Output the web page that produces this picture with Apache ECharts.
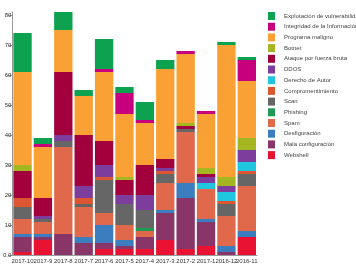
<!DOCTYPE html>
<html>
<head>
<meta charset="utf-8">
<script src="https://cdn.jsdelivr.net/npm/echarts@6/dist/echarts.min.js"></script>
<style>html,body{margin:0;padding:0;background:#fff}#c{width:356px;height:267px}</style>
</head>
<body>
<div id="c"></div>
<script>
const categories = ["2017-10","2017-9","2017-8","2017-7","2017-6","2017-5","2017-4","2017-3","2017-2","2017-1","2016-12","2016-11"];
// stacked bottom to top
const webshell   = [1,5,0,0,2,2,2,5,2,3,0,6];
const mala       = [5,1,7,4,2,1,4,9,17,8,1,0];
const desfig     = [1,1,0,2,6,2,0,1,5,1,2,2];
const spam       = [5,4,29,10,4,5,2,9,17,10,10,15];
const phishing   = [0,0,0,0,0,0,1,0,0,0,0,0];
const scan       = [4,1,2,1,11,7,6,3,1,0,4,4];
const comp       = [3,0,0,2,1,0,0,1,0,0,1,1];
const derecho    = [0,0,0,0,0,0,0,0,0,2,3,3];
const ddos       = [0,1,2,4,4,3,5,1,0,2,2,4];
const ataque     = [9,6,21,17,8,5,10,3,1,1,0,0];
const botnet     = [2,0,0,0,0,1,0,0,1,2,3,4];
const programa   = [31,17,14,13,23,21,14,30,23,18,44,19];
const integridad = [0,1,0,0,1,7,1,0,1,1,0,7];
const explot     = [13,2,6,2,10,2,6,3,0,0,1,1];

const seriesDefs = [
  ["Webshell", webshell, "#ea1232"],
  ["Mala configuración", mala, "#8a3568"],
  ["Desfiguración", desfig, "#3b7dbf"],
  ["Spam", spam, "#e0694c"],
  ["Phishing", phishing, "#1f9a55"],
  ["Scan", scan, "#666666"],
  ["Compromentimiento", comp, "#dc5731"],
  ["Derecho de Autor", derecho, "#20c6df"],
  ["DDOS", ddos, "#7d3d9d"],
  ["Ataque por fuerza bruta", ataque, "#a2003d"],
  ["Botnet", botnet, "#a4b621"],
  ["Programa maligno", programa, "#f9a135"],
  ["Integridad de la Información", integridad, "#c7007e"],
  ["Explotación de vulnerabilidades", explot, "#0ca24f"]
];

const font = "Liberation Sans, Arial, sans-serif";
const chart = echarts.init(document.getElementById('c'), null, {renderer: 'canvas'});
chart.setOption({
  animation: false,
  textStyle: {fontFamily: font},
  grid: {left: 12, right: 99, top: 12, bottom: 12, containLabel: false},
  legend: {
    orient: 'vertical',
    left: 268,
    top: 12,
    itemWidth: 7,
    itemHeight: 8,
    itemGap: 2.7,
    icon: 'rect',
    padding: 0,
    data: seriesDefs.map(d => d[0]).reverse(),
    textStyle: {fontSize: 6, color: '#444', fontFamily: font, padding: [0,0,0,4]}
  },
  xAxis: {
    type: 'category',
    data: categories,
    axisLine: {lineStyle: {color: '#999', width: 1}},
    axisTick: {alignWithLabel: true, length: 3, lineStyle: {color: '#999'}},
    axisLabel: {interval: 0, fontSize: 6, color: '#333', margin: 3, fontFamily: font}
  },
  yAxis: {
    type: 'value',
    min: 0,
    max: 81,
    interval: 10,
    splitLine: {show: false},
    axisLine: {show: true, lineStyle: {color: '#999', width: 1}},
    axisTick: {show: true, length: 4, lineStyle: {color: '#999'}},
    axisLabel: {fontSize: 6, color: '#333', margin: 1, showMaxLabel: false, fontFamily: font,
      formatter: v => v === 0 ? '0.0' : String(v)}
  },
  series: seriesDefs.map(d => ({
    name: d[0],
    type: 'bar',
    stack: 'total',
    data: d[1],
    barCategoryGap: '10%',
    itemStyle: {color: d[2]},
    emphasis: {disabled: true}
  }))
});
</script>
</body>
</html>
